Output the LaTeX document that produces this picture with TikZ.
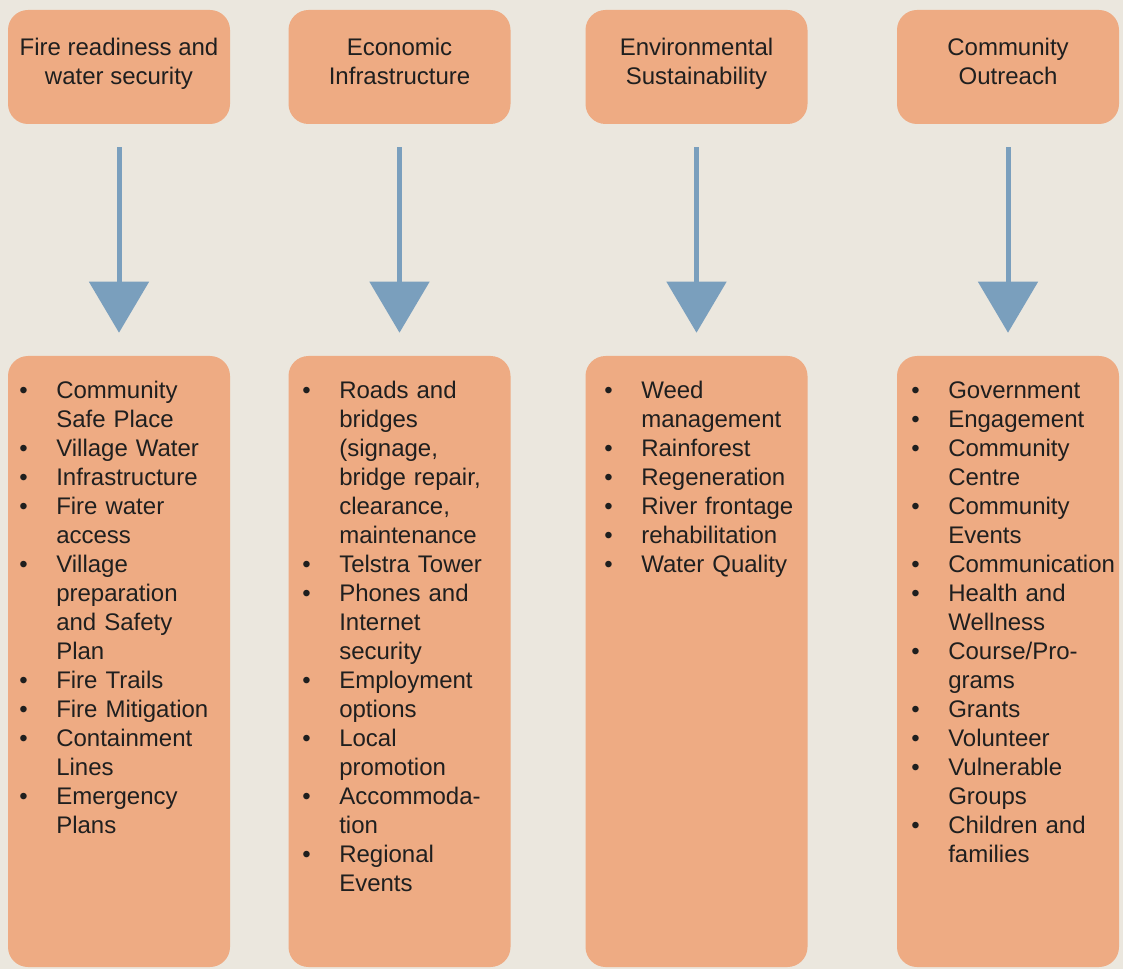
\documentclass[tikz,border=0pt]{standalone}
\usepackage{fontspec}
\setmainfont{Liberation Sans}
\usetikzlibrary{arrows.meta}
\definecolor{paper}{HTML}{EBE7DE}
\definecolor{peach}{HTML}{EEAB83}
\definecolor{steel}{HTML}{7A9FBD}
\newcommand{\bul}{\makebox[27.75pt][l]{•}}
\newcommand{\ind}{\hspace*{27.75pt}}
\newcommand{\hstrut}{\rule[-8.3pt]{0pt}{21.4pt}}

\begin{document}
\begin{tikzpicture}[x=0.75pt, y=-0.75pt,
    headbox/.style={fill=peach, rounded corners=15pt, minimum width=166.5pt,
        minimum height=85.5pt, align=center, text=black!88,
        font=\fontsize{18pt}{21.75pt}\selectfont},
    listbox/.style={fill=peach, rounded corners=15pt, minimum width=166.5pt,
        minimum height=458.25pt},
    itembox/.style={anchor=base west, inner sep=0pt, text width=180pt,
        align=left, text=black!88, font=\fontsize{18pt}{21.75pt}\selectfont},
    downarrow/.style={draw=steel, line width=3.75pt,
        -{Triangle[width=44.25pt,length=38.25pt]},
        shorten <=17.25pt, shorten >=17.25pt}]
        \useasboundingbox (0,0) rectangle (1123,969);
        \fill[paper] (0,0) rectangle (1123,969);

        \coordinate (T1) at (119,67);
        \coordinate (T2) at (399.5,67);
        \coordinate (T3) at (696.5,67);
        \coordinate (T4) at (1008,67);

        \node[headbox] (fire) at (T1) {\hstrut Fire readiness and\\\hstrut water security};
        \node[headbox] (econ) at (T2) {\hstrut Economic\\\hstrut Infrastructure};
        \node[headbox] (env) at (T3) {\hstrut Environmental\\\hstrut Sustainability};
        \node[headbox] (comm) at (T4) {\hstrut Community\\\hstrut Outreach};

        \node[listbox] (firebox) at (119,661.5) {};
        \node[listbox] (econbox) at (399.5,661.5) {};
        \node[listbox] (envbox) at (696.5,661.5) {};
        \node[listbox] (commbox) at (1008,661.5) {};

        \draw[downarrow] (fire) -- (firebox);
        \draw[downarrow] (econ) -- (econbox);
        \draw[downarrow] (env) -- (envbox);
        \draw[downarrow] (comm) -- (commbox);

        \node[itembox] (fireitems) at (19,398) {\bul Community\\
            \ind Safe Place\\
            \bul Village Water\\
            \bul Infrastructure\\
            \bul Fire water\\
            \ind access\\
            \bul Village\\
            \ind preparation\\
            \ind and Safety\\
            \ind Plan\\
            \bul Fire Trails\\
            \bul Fire Mitigation\\
            \bul Containment\\
            \ind Lines\\
            \bul Emergency\\
            \ind Plans};

        \node[itembox] (econitems) at (302,398) {\bul Roads and\\
            \ind bridges\\
            \ind (signage,\\
            \ind bridge repair,\\
            \ind clearance,\\
            \ind maintenance\\
            \bul Telstra Tower\\
            \bul Phones and\\
            \ind Internet\\
            \ind security\\
            \bul Employment\\
            \ind options\\
            \bul Local\\
            \ind promotion\\
            \bul Accommoda-\\
            \ind tion\\
            \bul Regional\\
            \ind Events};

        \node[itembox] (envitems) at (604,398) {\bul Weed\\
            \ind management\\
            \bul Rainforest\\
            \bul Regeneration\\
            \bul River frontage\\
            \bul rehabilitation\\
            \bul Water Quality};

        \node[itembox] (commitems) at (911,398) {\bul Government\\
            \bul Engagement\\
            \bul Community\\
            \ind Centre\\
            \bul Community\\
            \ind Events\\
            \bul Communication\\
            \bul Health and\\
            \ind Wellness\\
            \bul Course/Pro-\\
            \ind grams\\
            \bul Grants\\
            \bul Volunteer\\
            \bul Vulnerable\\
            \ind Groups\\
            \bul Children and\\
            \ind families};

    \end{tikzpicture}
\end{document}
